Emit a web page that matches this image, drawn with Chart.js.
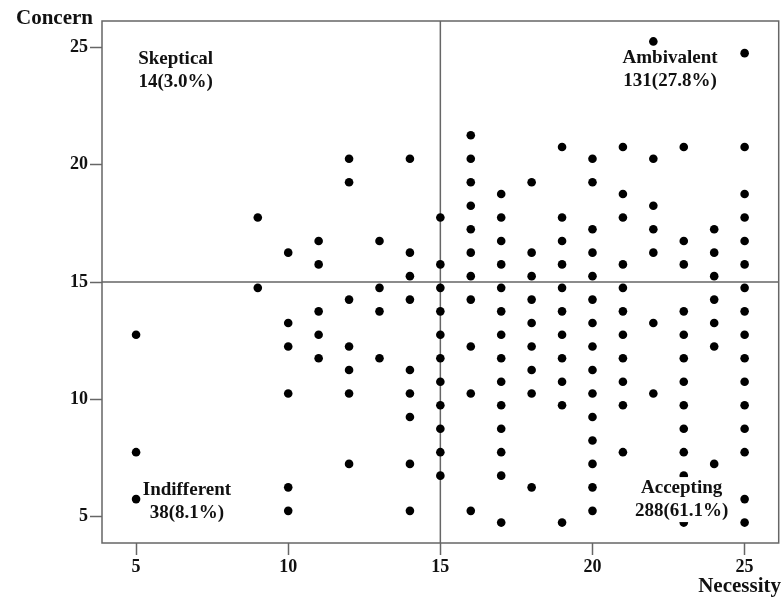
<!DOCTYPE html>
<html>
<head>
<meta charset="utf-8">
<script src="https://cdn.jsdelivr.net/npm/chart.js@4.4.1/dist/chart.umd.min.js"></script>
<style>
  html, body { margin: 0; padding: 0; background: #fff; }
  #wrap { width: 783px; height: 601px; }
</style>
</head>
<body>
<div id="wrap"><canvas id="chartScatter" width="783" height="601"></canvas></div>
<script>
// Necessity score (x) and the concern scores (y) plotted in that column
var necessity = [5, 9, 10, 11, 12, 13, 14, 15, 16, 17, 18, 19, 20, 21, 22, 23, 24, 25];
var concern = [
    [12.75, 7.75, 5.75],
    [17.75, 14.75],
    [16.25, 13.25, 12.25, 10.25, 6.25, 5.25],
    [16.75, 15.75, 13.75, 12.75, 11.75],
    [20.25, 19.25, 14.25, 12.25, 11.25, 10.25, 7.25],
    [16.75, 14.75, 13.75, 11.75],
    [20.25, 16.25, 15.25, 14.25, 11.25, 10.25, 9.25, 7.25, 5.25],
    [17.75, 15.75, 14.75, 13.75, 12.75, 11.75, 10.75, 9.75, 8.75, 7.75, 6.75],
    [21.25, 20.25, 19.25, 18.25, 17.25, 16.25, 15.25, 14.25, 12.25, 10.25, 5.25],
    [18.75, 17.75, 16.75, 15.75, 14.75, 13.75, 12.75, 11.75, 10.75, 9.75, 8.75, 7.75, 6.75, 4.75],
    [19.25, 16.25, 15.25, 14.25, 13.25, 12.25, 11.25, 10.25, 6.25],
    [20.75, 17.75, 16.75, 15.75, 14.75, 13.75, 12.75, 11.75, 10.75, 9.75, 4.75],
    [20.25, 19.25, 17.25, 16.25, 15.25, 14.25, 13.25, 12.25, 11.25, 10.25, 9.25, 8.25, 7.25, 6.25, 5.25],
    [20.75, 18.75, 17.75, 15.75, 14.75, 13.75, 12.75, 11.75, 10.75, 9.75, 7.75],
    [25.25, 20.25, 18.25, 17.25, 16.25, 13.25, 10.25],
    [20.75, 16.75, 15.75, 13.75, 12.75, 11.75, 10.75, 9.75, 8.75, 7.75, 6.75, 4.75],
    [17.25, 16.25, 15.25, 14.25, 13.25, 12.25, 7.25],
    [24.75, 20.75, 18.75, 17.75, 16.75, 15.75, 14.75, 13.75, 12.75, 11.75, 10.75, 9.75, 8.75, 7.75, 5.75, 4.75]
];
var tickValues = [5, 10, 15, 20, 25];
var cutOff = 15;
var groupNames = ['Skeptical', 'Ambivalent', 'Indifferent', 'Accepting'];
var groupCounts = ['14(3.0%)', '131(27.8%)', '38(8.1%)', '288(61.1%)'];

// where each quadrant caption sits (data units)
var groupAnchors = [
    {x: 6.3, y: 24.5},
    {x: 22.55, y: 24.55},
    {x: 6.67, y: 6.15},
    {x: 22.93, y: 6.22}
];

var points = [];
for (var i = 0; i < necessity.length; i++) {
    for (var j = 0; j < concern[i].length; j++) {
        points.push({x: necessity[i], y: concern[i][j]});
    }
}

var lineColor = '#666';
var serif = '"Liberation Serif", "Times New Roman", serif';

var quadrantPlugin = {
    id: 'quadrants',
    beforeDatasetsDraw: function (chart) {
        var ctx = chart.ctx, a = chart.chartArea;
        var xs = chart.scales.x, ys = chart.scales.y;
        ctx.save();
        ctx.strokeStyle = lineColor;
        ctx.lineWidth = 1.5;
        var px = xs.getPixelForValue(cutOff);
        var py = ys.getPixelForValue(cutOff);
        ctx.beginPath();
        ctx.moveTo(px, a.top); ctx.lineTo(px, a.bottom);
        ctx.moveTo(a.left, py); ctx.lineTo(a.right, py);
        ctx.stroke();
        ctx.strokeRect(a.left, a.top, a.right - a.left, a.bottom - a.top);
        ctx.restore();
    },
    afterDatasetsDraw: function (chart) {
        var ctx = chart.ctx;
        var xs = chart.scales.x, ys = chart.scales.y;
        ctx.save();
        ctx.font = 'bold 19px ' + serif;
        ctx.textAlign = 'center';
        ctx.textBaseline = 'middle';
        for (var k = 0; k < groupNames.length; k++) {
            var cx = xs.getPixelForValue(groupAnchors[k].x);
            var cy = ys.getPixelForValue(groupAnchors[k].y);
            var lines = [groupNames[k], groupCounts[k]];
            for (var n = 0; n < lines.length; n++) {
                var w = ctx.measureText(lines[n]).width;
                var ly = cy + n * 23;
                ctx.fillStyle = '#fff';
                ctx.fillRect(cx - w / 2, ly - 11, w, 22);
                ctx.fillStyle = '#111';
                ctx.fillText(lines[n], cx, ly);
            }
        }
        ctx.restore();
    },
    afterDraw: function (chart) {
        var ctx = chart.ctx;
        ctx.save();
        ctx.font = 'bold 21px ' + serif;
        ctx.fillStyle = '#111';
        ctx.textBaseline = 'middle';
        ctx.textAlign = 'left';
        ctx.fillText('Concern', 16, 19);
        ctx.textAlign = 'right';
        ctx.fillText('Necessity', 781, 587);
        ctx.restore();
    }
};

function axisOptions(fit) {
    return {
        type: 'linear',
        min: 3.88,
        max: 26.12,
        afterBuildTicks: function (scale) {
            scale.ticks = tickValues.map(function (v) { return {value: v}; });
        },
        afterFit: fit,
        grid: {
            display: true,
            drawOnChartArea: false,
            drawTicks: true,
            tickLength: 12,
            tickColor: lineColor,
            tickWidth: 1.5
        },
        border: { display: false },
        ticks: {
            color: '#111',
            font: { family: serif, size: 18, weight: 'bold' },
            maxRotation: 0,
            autoSkip: false
        }
    };
}

var xOpts = axisOptions(function (scale) { scale.height = 58; });
xOpts.ticks.padding = 2;
var yOpts = axisOptions(function (scale) { scale.width = 102; });
yOpts.ticks.padding = 2;

var chartScatter = new Chart(document.getElementById('chartScatter'), {
    type: 'scatter',
    data: {
        datasets: [{
            label: 'Respondents',
            data: points,
            backgroundColor: '#000',
            borderWidth: 0,
            pointRadius: 4.3,
            pointHoverRadius: 4.3
        }]
    },
    options: {
        responsive: false,
        animation: false,
        layout: { padding: { top: 21, right: 3, left: 0, bottom: 0 } },
        plugins: {
            legend: { display: false },
            tooltip: { enabled: false }
        },
        scales: { x: xOpts, y: yOpts }
    },
    plugins: [quadrantPlugin]
});
</script>
</body>
</html>
